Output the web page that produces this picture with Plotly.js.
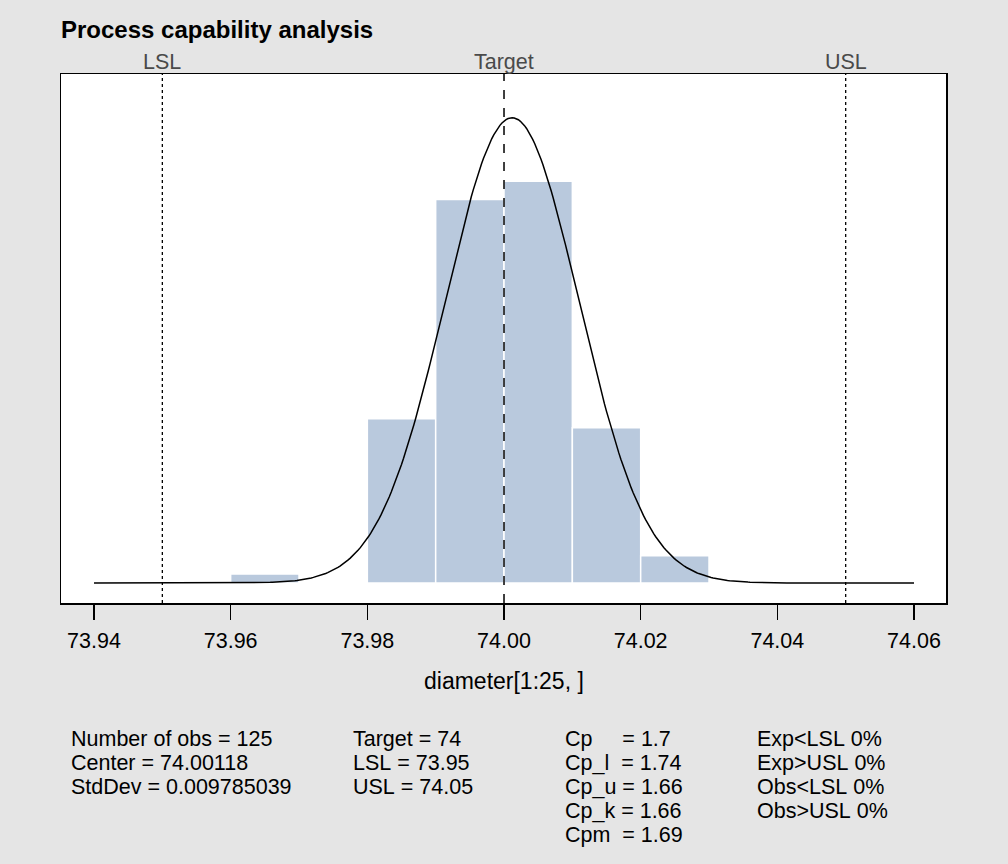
<!DOCTYPE html>
<html><head><meta charset="utf-8">
<script src="https://cdn.plot.ly/plotly-3.0.1.min.js"></script>
<style>html,body{margin:0;padding:0;background:#e5e5e5;}#chart{width:1008px;height:864px;}</style>
</head><body><div id="chart"></div>
<script>
// Histogram bins (lower edges) and counts
const binStarts = [73.96, 73.97, 73.98, 73.99, 74.00, 74.01, 74.02];
const binCounts = [1, 0, 18, 42, 44, 17, 3];
const binWidth = 0.01;
const nObs = 125;
const center = 74.00118;
const stdDev = 0.009785039;
const LSL = 73.95, target = 74, USL = 74.05;
const curveFrom = 73.94, curveTo = 74.06;
const tickVals = [73.94, 73.96, 73.98, 74.00, 74.02, 74.04, 74.06];
const tickText = ["73.94", "73.96", "73.98", "74.00", "74.02", "74.04", "74.06"];
const statsCol1 = ["Number of obs = 125", "Center = 74.00118", "StdDev = 0.009785039"];
const statsCol2 = ["Target = 74", "LSL = 73.95", "USL = 74.05"];
const statsCol3 = ["Cp     = 1.7", "Cp_l  = 1.74", "Cp_u = 1.66", "Cp_k = 1.66", "Cpm  = 1.69"];
const statsCol4 = ["Exp<LSL 0%", "Exp>USL 0%", "Obs<LSL 0%", "Obs>USL 0%"];

const barX = binStarts.map(b => b + binWidth / 2);
const barY = binCounts.map(c => c / (nObs * binWidth));

// fitted normal density from the stated center and StdDev
const cx = [], cy = [];
const N = 400;
for (let i = 0; i <= N; i++) {
  const x = curveFrom + (curveTo - curveFrom) * i / N;
  cx.push(x);
  cy.push(Math.exp(-0.5 * Math.pow((x - center) / stdDev, 2)) / (stdDev * Math.sqrt(2 * Math.PI)));
}

const W = 1008, H = 864;
const M = {l: 61, r: 62, t: 74, b: 261};
const plotW = W - M.l - M.r, plotH = H - M.t - M.b;
const px2x = px => (px - M.l) / plotW;
const py2y = py => (H - M.b - py) / plotH;

const font = "Liberation Sans, Arial, sans-serif";
const traces = [
  {type: 'bar', x: barX, y: barY, width: binWidth,
   marker: {color: '#b9c9dd', line: {color: 'white', width: 1.5}}, hoverinfo: 'skip'},
  {type: 'scatter', mode: 'lines', x: cx, y: cy, line: {color: 'black', width: 1.5}, hoverinfo: 'skip'}
];

const nb = s => s.replace(/ /g, '\u00a0');
const annotations = [];
[[LSL, 'LSL'], [target, 'Target'], [USL, 'USL']].forEach(([v, t]) => {
  annotations.push({x: v, y: py2y(62), xref: 'x', yref: 'paper', yanchor: 'middle', text: t,
    showarrow: false, font: {family: font, size: 21.5, color: '#4a4a4a'}});
});
const cols = [[statsCol1, 71], [statsCol2, 353], [statsCol3, 565], [statsCol4, 757]];
cols.forEach(([lines, px]) => {
  lines.forEach((s, i) => {
    annotations.push({x: px2x(px), y: py2y(739 + i * 24), xref: 'paper', yref: 'paper',
      xanchor: 'left', yanchor: 'middle', text: nb(s), showarrow: false, xshift: -2,
      font: {family: font, size: 21.5, color: 'black'}});
  });
});
annotations.push({x: px2x(504), y: py2y(681), xref: 'paper', yref: 'paper', xanchor: 'center', yanchor: 'middle',
  text: 'diameter[1:25, ]', showarrow: false, font: {family: font, size: 23, color: 'black'}});

const shapes = [
  {type: 'line', xref: 'x', yref: 'paper', x0: LSL, x1: LSL, y0: 0, y1: 1, line: {color: 'black', width: 1.3, dash: 'dot'}},
  {type: 'line', xref: 'x', yref: 'paper', x0: target, x1: target, y0: 0, y1: 1, line: {color: 'black', width: 1.5, dash: 'dash'}},
  {type: 'line', xref: 'x', yref: 'paper', x0: USL, x1: USL, y0: 0, y1: 1, line: {color: 'black', width: 1.3, dash: 'dot'}}
];

const layout = {
  width: W, height: H,
  paper_bgcolor: '#e5e5e5', plot_bgcolor: 'white',
  margin: M,
  showlegend: false, bargap: 0,
  title: {text: '<b>Process capability analysis</b>', x: 61 / W, xanchor: 'left', y: 1 - 30 / H, yanchor: 'middle',
    font: {family: font, size: 24, color: 'black'}},
  xaxis: {range: [73.93517, 74.06468], tickvals: tickVals, ticktext: tickText, ticks: 'outside', ticklen: 15,
    tickwidth: 1.3, tickcolor: 'black', showline: true, mirror: true, linecolor: 'black', linewidth: 1.5,
    ticklabelstandoff: 3,
    showgrid: false, zeroline: false, tickfont: {family: font, size: 21.5, color: 'black'}},
  yaxis: {range: [-1.75, 44.6], showticklabels: false, ticks: '', showline: true, mirror: true,
    linecolor: 'black', linewidth: 1.5, showgrid: false, zeroline: false},
  annotations: annotations, shapes: shapes
};
Plotly.newPlot('chart', traces, layout, {displayModeBar: false, staticPlot: true});
</script></body></html>
